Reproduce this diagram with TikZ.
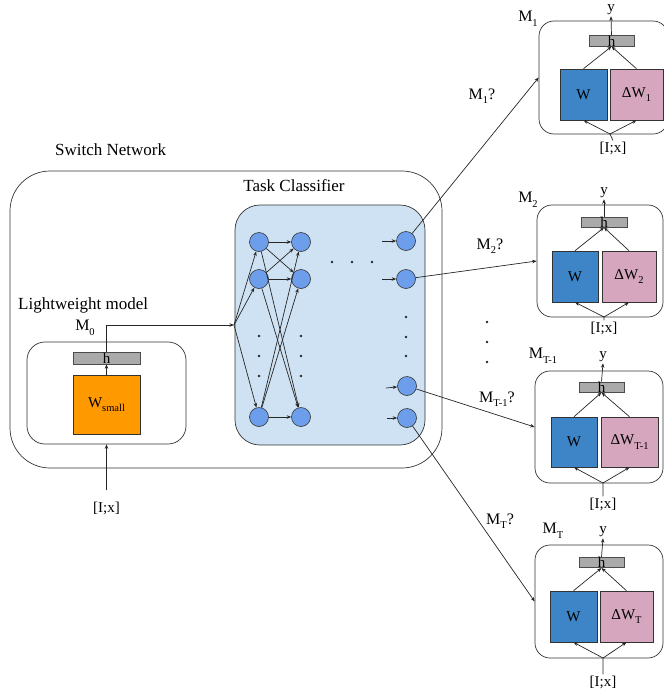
\documentclass[tikz,border=0pt]{standalone}
\usepackage{fontspec}
\setmainfont{Liberation Serif}
\usetikzlibrary{arrows.meta}

\definecolor{wblue}{HTML}{3D85C6}
\definecolor{dwpink}{HTML}{D5A6BD}
\definecolor{nodeblue}{HTML}{6D9EEB}
\definecolor{clsfill}{HTML}{CFE2F3}
\definecolor{hgray}{HTML}{AAAAAA}
\definecolor{wsmall}{HTML}{FF9900}

\newcommand{\lowidx}[1]{\raisebox{-4.5pt}{\fontsize{10.5}{11}\selectfont #1}}

\tikzstyle{frame} = [rectangle, draw=black!80, line width=0.7pt, rounded corners=40pt, inner sep=0pt]
\tikzstyle{modelbox} = [rectangle, draw=black!80, line width=0.7pt, rounded corners=15pt, inner sep=0pt, minimum height=113pt]
\tikzstyle{neuron} = [circle, draw=black!80, line width=0.6pt, fill=nodeblue, minimum size=19pt, inner sep=0pt]
\tikzstyle{hbar} = [rectangle, draw=black!70, line width=0.6pt, fill=hgray, minimum height=10pt, inner sep=0pt, font=\fontsize{15}{15}\selectfont]
\tikzstyle{wbox} = [rectangle, draw=black!80, line width=0.6pt, fill=wblue, minimum height=51pt, inner sep=0pt, font=\fontsize{15}{17}\selectfont]
\tikzstyle{dwbox} = [rectangle, draw=black!80, line width=0.6pt, fill=dwpink, minimum height=51pt, inner sep=0pt, font=\fontsize{15}{17}\selectfont]
\tikzstyle{lbl} = [inner sep=1pt, font=\fontsize{15}{17}\selectfont]
\tikzstyle{mlbl} = [inner sep=1pt, font=\fontsize{16}{18}\selectfont]
\tikzstyle{title} = [inner sep=0pt, font=\fontsize{17}{19}\selectfont]
\tikzstyle{link} = [draw=black!85, line width=0.7pt, -{Stealth[length=4.5pt,width=3.5pt]}]

\begin{document}
\begin{tikzpicture}[x=1pt, y=-1pt]

    \useasboundingbox (0,0) rectangle (664,691);
    \clip (0,0) rectangle (664,691);

    %  switch network
    \node[frame, minimum width=432pt, minimum height=297pt] (sw) at (226,319.5) {};
    \node[title, anchor=west] (swt) at (55,150) {Switch Network};

    %  task classifier
    \node[frame, rounded corners=25pt, fill=clsfill, minimum width=190pt, minimum height=240pt] (tc) at (330,325) {};
    \node[title] (tct) at (294,186) {Task Classifier};

    %-------------------------------------------------------------
    \node[title, anchor=west] (lwt) at (18,305) {Lightweight model};
    \node[mlbl] (m0) at (85,328) {M\lowidx{0}};
    \node[frame, rounded corners=18pt, minimum width=159pt, minimum height=102pt] (lw) at (106.5,393) {};
    \node[wbox, fill=wsmall, minimum width=67pt, minimum height=59pt] (ws) at (106.5,404.5) {W\lowidx{small}};
    \node[hbar, minimum width=67pt, minimum height=12pt] (h0) at (106.5,358) {h};
    \node[lbl] (in0) at (106.5,508) {[I;x]};
    \coordinate (fan) at (234,325);

    \draw[link] ([yshift=10pt]in0.north) -- (lw.south);
    \draw[link] (ws.north) -- (h0.south);
    \draw[link] (h0.north) |- (fan);

    %-------------------------------------------------------------
    \node[neuron] (a1) at (259,242) {};
    \node[neuron] (a2) at (259,279) {};
    \node[neuron] (a3) at (259,417) {};
    \node[neuron] (b1) at (301,242) {};
    \node[neuron] (b2) at (301,279) {};
    \node[neuron] (b3) at (301,417) {};
    \node[neuron] (o1) at (406,241) {};
    \node[neuron] (o2) at (406,279) {};
    \node[neuron] (o3) at (407,386) {};
    \node[neuron] (o4) at (407,418) {};

    \draw[link] (fan) -- (a1);
    \draw[link] (fan) -- (a2);
    \draw[link] (fan) -- (a3);

    \draw[link] (a1) -- (b1);
    \draw[link] (a1) -- (b2);
    \draw[link] (a1) -- (b3);
    \draw[link] (a2) -- (b1);
    \draw[link] (a2) -- (b2);
    \draw[link] (a2) -- (b3);
    \draw[link] (a3) -- (b1);
    \draw[link] (a3) -- (b2);
    \draw[link] (a3) -- (b3);

    \coordinate (s1) at (382,241);
    \coordinate (s2) at (382,279);
    \coordinate (s3) at (386,388);
    \coordinate (s4) at (387,418);
    \draw[link] (s1) -- (o1);
    \draw[link] (s2) -- (o2);
    \draw[link] (s3) -- (o3);
    \draw[link] (s4) -- (o4);

    % dots
    \fill[black!85] (259,336) circle (1.3pt) (259,356) circle (1.3pt) (259,376) circle (1.3pt);
    \fill[black!85] (301,336) circle (1.3pt) (301,356) circle (1.3pt) (301,376) circle (1.3pt);
    \fill[black!85] (406,317) circle (1.3pt) (406,337) circle (1.3pt) (406,356) circle (1.3pt);
    \fill[black!85] (332,262) circle (1.3pt) (352,262) circle (1.3pt) (372,262) circle (1.3pt);
    \fill[black!85] (487,322) circle (1.3pt) (487,342) circle (1.3pt) (487,362) circle (1.3pt);

    %-------------------------------------------------------------
    \node[modelbox, minimum width=129pt] (m1) at (603.5,77.5) {};
    \node[wbox, minimum width=47pt] (w1) at (583.5,94.5) {W};
    \node[dwbox, minimum width=53pt] (dw1) at (636.5,94.5) {ΔW\lowidx{1}};
    \node[hbar, minimum width=45pt] (h1) at (611.5,41) {h};
    \node[lbl] (y1) at (611,10) {y};
    \node[mlbl] (l1) at (528,19) {M\lowidx{1}};
    \node[lbl] (in1) at (613,148) {[I;x]};
    \coordinate (f1) at (610,134);

    \draw[link] (h1.north) -- (y1.south);
    \draw[link] (w1.north) -- (h1.south);
    \draw[link] (dw1.north) -- (h1.south);
    \draw[link] (in1.north) -- (f1) -- (w1.south);
    \draw[link] (f1) -- (dw1.south);

    %-------------------------------------------------------------
    \node[modelbox, minimum width=126pt, minimum height=112pt] (m2) at (600,261) {};
    \node[wbox, minimum width=46pt] (w2) at (575,276.5) {W};
    \node[dwbox, minimum width=54pt] (dw2) at (629,276.5) {ΔW\lowidx{2}};
    \node[hbar, minimum width=46pt] (h2) at (604,222) {h};
    \node[lbl] (y2) at (604,193) {y};
    \node[mlbl] (l2) at (528,200) {M\lowidx{2}};
    \node[lbl] (in2) at (604,328) {[I;x]};
    \coordinate (f2) at (604,317);

    \draw[link] (h2.north) -- (y2.south);
    \draw[link] (w2.north) -- (h2.south);
    \draw[link] (dw2.north) -- (h2.south);
    \draw[link] (in2.north) -- (f2) -- (w2.south);
    \draw[link] (f2) -- (dw2.south);

    %-------------------------------------------------------------
    \node[modelbox, minimum width=128pt, minimum height=112pt] (m3) at (599,427) {};
    \node[wbox, minimum width=46pt, minimum height=50pt] (w3) at (574,442) {W};
    \node[dwbox, minimum width=57pt, minimum height=50pt] (dw3) at (629.5,442) {ΔW\lowidx{T-1}};
    \node[hbar, minimum width=45pt] (h3) at (601.5,387) {h};
    \node[lbl] (y3) at (603,357) {y};
    \node[mlbl] (l3) at (543,356) {M\lowidx{T-1}};
    \node[lbl] (in3) at (603,504) {[I;x]};
    \coordinate (f3) at (603,483);

    \draw[link] (h3.north) -- (y3.south);
    \draw[link] (w3.north) -- (h3.south);
    \draw[link] (dw3.north) -- (h3.south);
    \draw[link] (in3.north) -- (f3) -- (w3.south);
    \draw[link] (f3) -- (dw3.south);

    %-------------------------------------------------------------
    \node[modelbox, minimum width=128pt] (m4) at (599,601.5) {};
    \node[wbox, minimum width=47pt] (w4) at (573.5,616.5) {W};
    \node[dwbox, minimum width=53pt] (dw4) at (626.5,616.5) {ΔW\lowidx{T}};
    \node[hbar, minimum width=45pt] (h4) at (601.5,562.5) {h};
    \node[lbl] (y4) at (603,532) {y};
    \node[mlbl] (l4) at (553,531) {M\lowidx{T}};
    \node[lbl] (in4) at (603,682) {[I;x]};
    \coordinate (f4) at (603,658);

    \draw[link] (h4.north) -- (y4.south);
    \draw[link] (w4.north) -- (h4.south);
    \draw[link] (dw4.north) -- (h4.south);
    \draw[link] (in4.north) -- (f4) -- (w4.south);
    \draw[link] (f4) -- (dw4.south);

    %-------------------------------------------------------------
    \draw[link] (o1) -- (m1.west);
    \draw[link] (o2) -- (m2.west);
    \draw[link] (o3) -- (m3.west);
    \draw[link] (o4) -- (m4.west);

    \node[mlbl] (q1) at (482,96) {M\lowidx{1}?};
    \node[mlbl] (q2) at (490,246) {M\lowidx{2}?};
    \node[mlbl] (q3) at (497,399) {M\lowidx{T-1}?};
    \node[mlbl] (q4) at (500,521) {M\lowidx{T}?};

\end{tikzpicture}
\end{document}
